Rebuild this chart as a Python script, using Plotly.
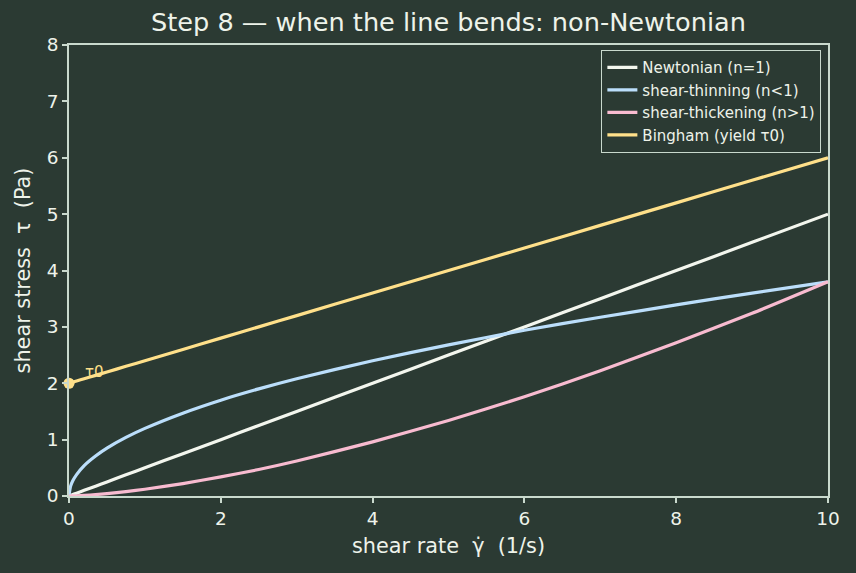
import plotly.graph_objects as go

# shear rate samples (1/s)
gamma = [0, 0.02, 0.05, 0.1, 0.2, 0.35, 0.5, 0.75, 1, 1.5, 2, 2.5, 3, 4, 5, 6, 7, 8, 9, 10]

# shear stress (Pa)
newtonian = [0, 0.01, 0.025, 0.05, 0.1, 0.175, 0.25, 0.375, 0.5, 0.75, 1.0, 1.25, 1.5, 2.0, 2.5, 3.0, 3.5, 4.0, 4.5, 5.0]
thinning = [0, 0.17, 0.27, 0.38, 0.54, 0.71, 0.85, 1.04, 1.2, 1.47, 1.70, 1.90, 2.08, 2.40, 2.68, 2.94, 3.17, 3.39, 3.60, 3.80]
thickening = [0, 0.0003, 0.0013, 0.004, 0.011, 0.025, 0.042, 0.078, 0.12, 0.22, 0.34, 0.47, 0.62, 0.96, 1.34, 1.76, 2.22, 2.72, 3.24, 3.80]
bingham = [2.0, 2.008, 2.02, 2.04, 2.08, 2.14, 2.2, 2.3, 2.4, 2.6, 2.8, 3.0, 3.2, 3.6, 4.0, 4.4, 4.8, 5.2, 5.6, 6.0]

names = ["Newtonian (n=1)", "shear-thinning (n<1)", "shear-thickening (n>1)", "Bingham (yield τ0)"]
colors = ["#f3f6ee", "#bbdefb", "#f8bbd0", "#ffe08a"]
series = [newtonian, thinning, thickening, bingham]

yield_point = (0, 2.0)

BG = "#2b3a33"
AX = "#c9d9cd"
TXT = "#eef3ea"
FONT = "DejaVu Sans"

fig = go.Figure()
for name, col, ys in zip(names, colors, series):
    fig.add_trace(go.Scatter(x=gamma, y=ys, mode="lines", name=name,
                             line=dict(color=col, width=3.2, shape="spline", smoothing=0.6)))

fig.add_trace(go.Scatter(x=[yield_point[0]], y=[yield_point[1]], mode="markers",
                         marker=dict(color=colors[3], size=11), showlegend=False, cliponaxis=False))
fig.add_annotation(x=yield_point[0], y=yield_point[1], text="τ0", showarrow=False,
                   xanchor="left", yanchor="bottom", xshift=14, yshift=0,
                   font=dict(color=colors[3], size=15, family=FONT))

axis_common = dict(showgrid=False, zeroline=False, showline=True, linecolor=AX, linewidth=1.5,
                   mirror=True, ticks="outside", ticklen=5, tickcolor=AX, tickwidth=1.5,
                   tickfont=dict(color=TXT, size=18.5, family=FONT))

fig.update_layout(
    width=856, height=573,
    paper_bgcolor=BG, plot_bgcolor=BG,
    margin=dict(l=69, r=28, t=45, b=77),
    font=dict(family=FONT, color=TXT),
    title=dict(text="Step 8 — when the line bends: non-Newtonian", x=0.5, xanchor="center",
               xref="paper", y=0.961, yanchor="middle",
               font=dict(size=25.6, color=TXT, family=FONT)),
    xaxis=dict(range=[0, 10], tickvals=[0, 2, 4, 6, 8, 10],
               title=dict(text="shear rate  γ̇  (1/s)", standoff=10,
                          font=dict(size=20.8, color=TXT, family=FONT)),
               **axis_common),
    yaxis=dict(range=[0, 8], tickvals=list(range(0, 9)),
               title=dict(text="shear stress  τ  (Pa)", standoff=10,
                          font=dict(size=20.8, color=TXT, family=FONT)),
               **axis_common),
    legend=dict(x=0.991, y=0.989, xanchor="right", yanchor="top",
                bgcolor=BG, bordercolor=AX, borderwidth=1.2,
                font=dict(size=15, color=TXT, family=FONT),
                tracegroupgap=0, itemwidth=30),
    showlegend=True,
)

fig.write_html("out.html")
